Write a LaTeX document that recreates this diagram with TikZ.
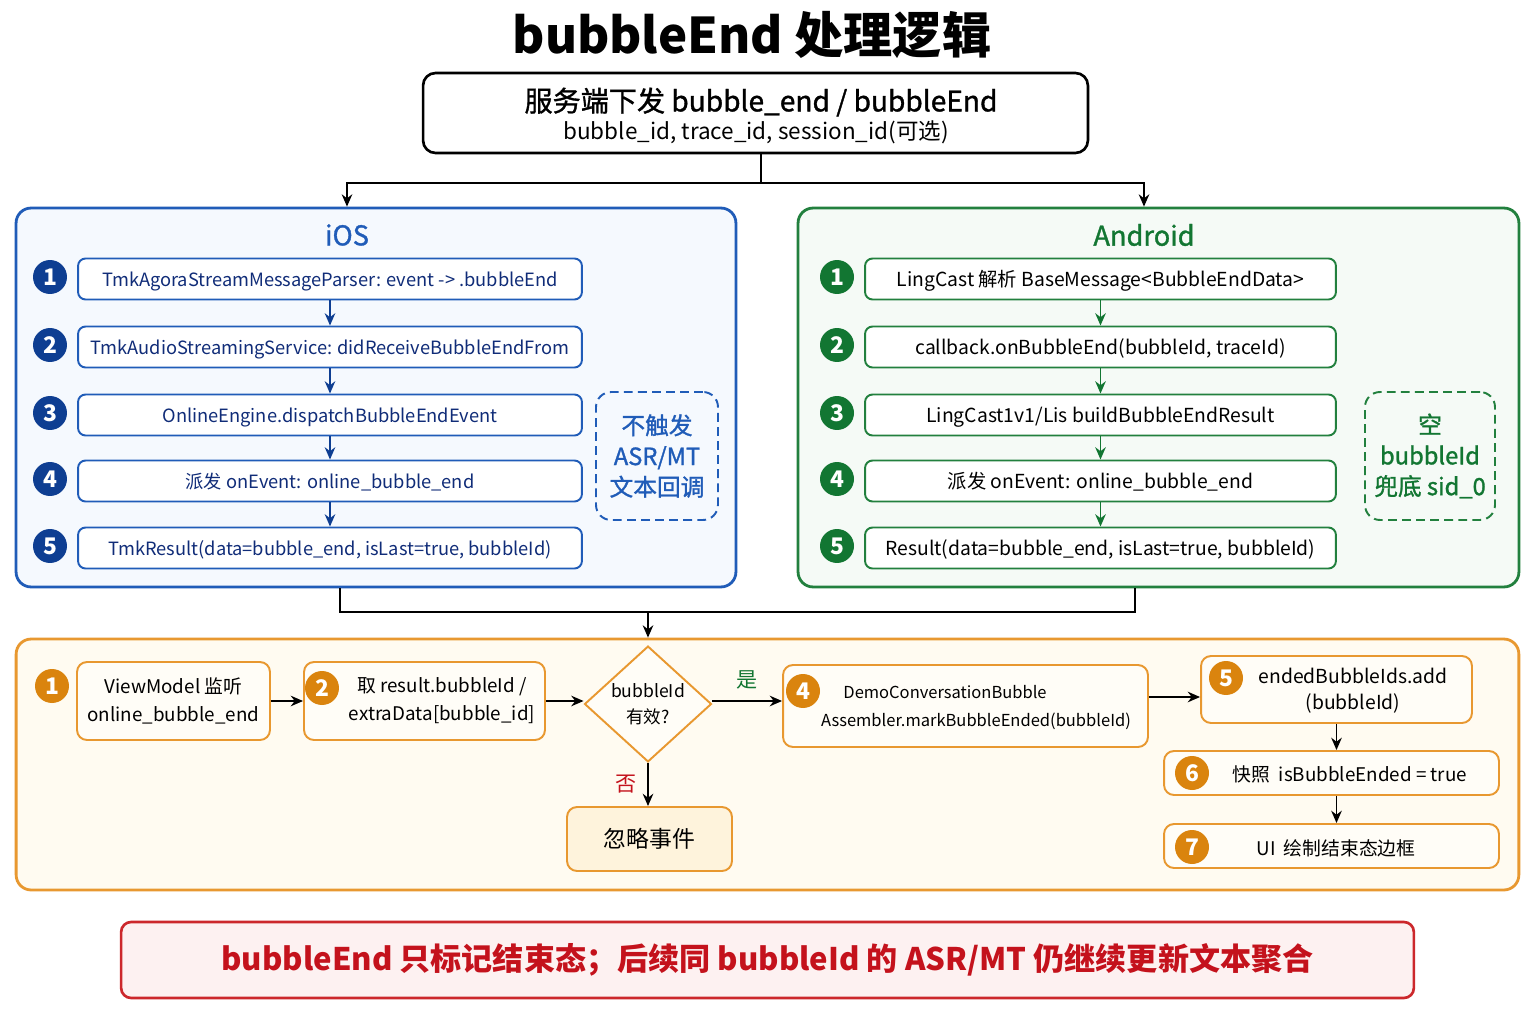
\documentclass[tikz,border=0pt]{standalone}
\usepackage{fontspec}
\setmainfont{Noto Sans CJK SC}
\newfontfamily\medfont[FakeBold=1.2]{Noto Sans CJK SC}
\usetikzlibrary{shapes.geometric,arrows.meta}

\definecolor{iosline}{RGB}{32,92,184}
\definecolor{iosfill}{RGB}{245,249,254}
\definecolor{iosdark}{RGB}{14,62,146}
\definecolor{iostext}{RGB}{16,44,120}
\definecolor{andline}{RGB}{34,128,62}
\definecolor{andfill}{RGB}{245,250,246}
\definecolor{anddark}{RGB}{18,118,50}
\definecolor{orline}{RGB}{232,152,48}
\definecolor{orfill}{RGB}{255,251,241}
\definecolor{ordark}{RGB}{218,132,14}
\definecolor{ignfill}{RGB}{254,243,220}
\definecolor{redline}{RGB}{204,40,44}
\definecolor{redfill}{RGB}{253,241,241}
\definecolor{redtext}{RGB}{196,18,28}

\newcommand{\fs}[2]{\fontsize{#1}{#2}\selectfont}

\begin{document}
\begin{tikzpicture}[x=0.02cm, y=-0.02cm, line width=1.1pt,
  every node/.style={inner sep=0pt},
  panel/.style={draw, rounded corners=0.3cm, line width=1.6pt},
  stepbox/.style={draw, fill=white, rounded corners=0.15cm, minimum height=0.82cm, text height=1em, text depth=0.1em, font=\fs{11}{13}},
  iosstep/.style={stepbox, draw=iosline, text=iostext, minimum width=10.08cm, font=\fs{10.4}{13}},
  andstep/.style={stepbox, draw=andline, minimum width=9.42cm},
  num/.style={circle, minimum size=0.68cm, text=white, font=\fs{13}{13}\bfseries},
  note/.style={draw, dashed, dash pattern=on 5pt off 3pt, rounded corners=0.3cm, align=center, font=\fs{13.5}{17.5}\medfont},
  flowbox/.style={draw=orline, fill=orfill!60!white, rounded corners=0.2cm},
  flowtext/.style={align=center, font=\fs{10.7}{16}},
  arr/.style={-{Stealth[length=7pt,width=6pt]}}
]

\fill[white] (0,0) rectangle (1536,1024);
\useasboundingbox (0,0) rectangle (1536,1024);

% title and server message
\node[font=\fs{28}{30}\bfseries] (title) at (752,35) {bubbleEnd 处理逻辑};

\node[draw, rounded corners=0.25cm, line width=1.5pt, minimum width=13.3cm, minimum height=1.6cm] (srv) at (755.5,113) {};
\node[font=\fs{16}{18}\medfont] (srv1) at (761,102) {服务端下发 bubble\_end / bubbleEnd};
\node[font=\fs{12.8}{14}] (srv2) at (756,132) {bubble\_id, trace\_id, session\_id(可选)};

% iOS
\node[panel, draw=iosline, fill=iosfill, minimum width=14.4cm, minimum height=7.58cm] (iosp) at (376,397.5) {};
\node[text=iosline, font=\fs{15.5}{18}\medfont] (iost) at (347,235) {iOS};

\node[iosstep] (i1) at (330,279) {TmkAgoraStreamMessageParser: event -> .bubbleEnd};
\node[iosstep] (i2) at (330,347) {TmkAudioStreamingService: didReceiveBubbleEndFrom};
\node[iosstep] (i3) at (330,415) {OnlineEngine.dispatchBubbleEndEvent};
\node[iosstep] (i4) at (330,481) {派发 onEvent: online\_bubble\_end};
\node[iosstep] (i5) at (330,548) {TmkResult(data=bubble\_end, isLast=true, bubbleId)};

\node[num, fill=iosdark] (in1) at (50,277) {1};
\node[num, fill=iosdark] (in2) at (50,345) {2};
\node[num, fill=iosdark] (in3) at (50,413) {3};
\node[num, fill=iosdark] (in4) at (50,479) {4};
\node[num, fill=iosdark] (in5) at (50,546) {5};

\draw[arr, iosdark] (i1) -- (i2);
\draw[arr, iosdark] (i2) -- (i3);
\draw[arr, iosdark] (i3) -- (i4);
\draw[arr, iosdark] (i4) -- (i5);

\node[note, draw=iosline, text=iosline, minimum width=2.44cm, minimum height=2.56cm] (iosn) at (657,456) {不触发\\ASR/MT\\文本回调};

% Android
\node[panel, draw=andline, fill=andfill, minimum width=14.42cm, minimum height=7.58cm] (andp) at (1158.5,397.5) {};
\node[text=anddark, font=\fs{15.5}{18}\medfont] (andt) at (1144,235) {Android};

\node[andstep] (a1) at (1100.5,279) {LingCast 解析 BaseMessage<BubbleEndData>};
\node[andstep] (a2) at (1100.5,347) {callback.onBubbleEnd(bubbleId, traceId)};
\node[andstep] (a3) at (1100.5,415) {LingCast1v1/Lis buildBubbleEndResult};
\node[andstep] (a4) at (1100.5,481) {派发 onEvent: online\_bubble\_end};
\node[andstep] (a5) at (1100.5,548) {Result(data=bubble\_end, isLast=true, bubbleId)};

\node[num, fill=anddark] (an1) at (837,277) {1};
\node[num, fill=anddark] (an2) at (837,345) {2};
\node[num, fill=anddark] (an3) at (837,413) {3};
\node[num, fill=anddark] (an4) at (837,479) {4};
\node[num, fill=anddark] (an5) at (837,546) {5};

\draw[arr, anddark] (a1) -- (a2);
\draw[arr, anddark] (a2) -- (a3);
\draw[arr, anddark] (a3) -- (a4);
\draw[arr, anddark] (a4) -- (a5);

\node[note, draw=andline, text=anddark, minimum width=2.6cm, minimum height=2.56cm] (andn) at (1430,456) {空\\bubbleId\\兜底 sid\_0};

% fork from server
\coordinate (fork) at (761,183);
\draw (srv.south -| fork) -- (fork);
\draw[arr] (fork) -| (iost |- iosp.north);
\draw[arr] (fork) -| (andt |- andp.north);

% app side
\node[panel, draw=orline, fill=orfill, minimum width=30.06cm, minimum height=5.02cm] (flow) at (767.5,764.5) {};

\coordinate (mergeL) at (340,612);
\coordinate (mergeR) at (1135,612);
\coordinate (merge) at (648,612);
\draw (iosp.south -| mergeL) -- (mergeL) -- (mergeR) -- (andp.south -| mergeR);
\draw[arr] (merge) -- (merge |- flow.north);

\node[flowbox, minimum width=3.86cm, minimum height=1.56cm, flowtext] (b1) at (173.5,701) {ViewModel 监听\\online\_bubble\_end};
\node[num, fill=ordark] (bn1) at (52,686) {1};

\node[flowbox, minimum width=4.82cm, minimum height=1.56cm] (b2) at (424.5,701) {};
\node[flowtext] (b2t) at (442,701) {取 result.bubbleId /\\extraData[bubble\_id]};
\node[num, fill=ordark] (bn2) at (322,688) {2};

\node[diamond, draw=orline, fill=orfill!60!white, minimum width=2.54cm, minimum height=2.08cm, flowtext, font=\fs{10}{15}] (dia) at (648,704) {bubbleId\\有效?};

\node[flowbox, minimum width=7.3cm, minimum height=1.64cm] (b4) at (965.5,706) {};
\node[font=\fs{9.4}{12}] (b4t1) at (945,692) {DemoConversationBubble};
\node[font=\fs{9.4}{12}] (b4t2) at (976,721) {Assembler.markBubbleEnded(bubbleId)};
\node[num, fill=ordark] (bn4) at (803,691) {4};

\node[flowbox, minimum width=5.42cm, minimum height=1.34cm] (b5) at (1336.5,689.5) {};
\node[flowtext, font=\fs{11}{15}] (b5t) at (1353,691) {endedBubbleIds.add\\(bubbleId)};
\node[num, fill=ordark] (bn5) at (1226,678) {5};

\node[flowbox, minimum width=6.7cm, minimum height=0.88cm] (b6) at (1331.5,773) {};
\node[flowtext] (b6t) at (1350,774) {快照\ \ isBubbleEnded = true};
\node[num, fill=ordark] (bn6) at (1192,773) {6};

\node[flowbox, minimum width=6.7cm, minimum height=0.88cm] (b7) at (1331.5,846) {};
\node[flowtext] (b7t) at (1336,848) {UI\ \ 绘制结束态边框};
\node[num, fill=ordark] (bn7) at (1192,847) {7};

\node[flowbox, fill=ignfill, minimum width=3.3cm, minimum height=1.28cm, font=\fs{13}{13}] (ign) at (649.5,839) {忽略事件};

\draw[arr] (b1) -- (b2);
\draw[arr] (b2.east) -- (b2.east -| dia.west);
\draw[arr] (b2.east -| dia.east) -- (b2.east -| b4.west) node[midway, above=6pt, text=anddark, font=\fs{12}{12}] (yes) {是};
\draw[arr] (dia.south) -- (dia.south |- ign.north) node[midway, left=6pt, text=redtext, font=\fs{12}{12}] (no) {否};
\draw[arr] ([yshift=0.18cm]b4.east) -- ([yshift=0.18cm]b4.east -| b5.west);
\draw[arr] (b5.south) -- (b5.south |- b6.north);
\draw[arr] (b5.south |- b6.south) -- (b5.south |- b7.north);

% summary
\node[draw=redline, fill=redfill, rounded corners=0.2cm, line width=1.5pt, minimum width=25.86cm, minimum height=1.52cm, text=redtext, font=\fs{17.7}{20}\bfseries] (summary) at (767.5,960) {bubbleEnd 只标记结束态；后续同 bubbleId 的 ASR/MT 仍继续更新文本聚合};

\end{tikzpicture}
\end{document}
